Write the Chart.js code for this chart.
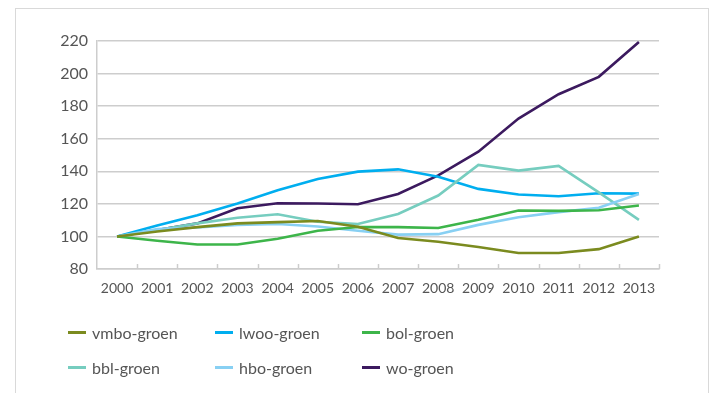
<!DOCTYPE html>
<html>
<head>
<meta charset="utf-8">
<script src="https://cdn.jsdelivr.net/npm/chart.js@4.4.1/dist/chart.umd.min.js"></script>
<style>
  html, body { margin: 0; padding: 0; background: #fff; }
  #wrap { position: relative; width: 715px; height: 393px; overflow: hidden; }
  #frame {
    position: absolute; left: 15px; top: 8px; width: 694px; height: 400px;
    border: 1.5px solid #d9d9d9; border-bottom: none; box-sizing: border-box;
  }
  #chart { position: absolute; left: 0; top: 0; }
  #legend {
    position: absolute; left: 68px; top: 320px;
    display: grid; grid-template-columns: 147px 147px 147px; row-gap: 11px;
    font-family: Lato, sans-serif; font-size: 16px; color: #555;
  }
  .item { display: flex; align-items: center; height: 24px; }
  .swatch { width: 18px; height: 3px; margin-right: 6px; }
</style>
</head>
<body>
<div id="wrap">
  <div id="frame"></div>
  <canvas id="chart" width="715" height="393"></canvas>
  <div id="legend"></div>
</div>
<script>
// index, 2000 = 100
const years = ['2000', '2001', '2002', '2003', '2004', '2005', '2006',
  '2007', '2008', '2009', '2010', '2011', '2012', '2013'];

const vmboGroen = [100, 103, 105.7, 108, 108.8, 109.5, 106, 99, 96.7, 93.5, 89.8, 89.8, 92.2, 100];
const lwooGroen = [100, 106.7, 113, 120.2, 128.3, 135.3, 139.8, 141.2, 136.7, 129.2, 125.7, 124.7, 126.5, 126.3];
const bolGroen = [100, 97.3, 95, 95, 98.6, 103.5, 105.8, 105.7, 105.2, 110.2, 115.9, 115.7, 116.1, 119];
const bblGroen = [100, 104, 108, 111.5, 113.6, 109, 107.6, 113.8, 125.1, 143.9, 140.4, 143.3, 127.1, 110.2];
const hboGroen = [100, 104.5, 105.5, 107.1, 107.6, 106.1, 103.5, 101.1, 101.4, 107.1, 111.8, 114.9, 117.6, 126];
const woGroen = [100, 104, 108, 117.3, 120.4, 120.2, 119.8, 126.1, 137.5, 152, 172.4, 187.3, 198, 219.4];

const yTicks = [80, 100, 120, 140, 160, 180, 200, 220];

const series = [
  { label: 'vmbo-groen', data: vmboGroen, color: '#7b8b1f' },
  { label: 'lwoo-groen', data: lwooGroen, color: '#00aeef' },
  { label: 'bol-groen', data: bolGroen, color: '#3db54a' },
  { label: 'bbl-groen', data: bblGroen, color: '#76cdbf' },
  { label: 'hbo-groen', data: hboGroen, color: '#88d0f3' },
  { label: 'wo-groen', data: woGroen, color: '#3c1a5f' }
];

// draw order: olive last so it sits on top like the reference
const drawOrder = [5, 1, 3, 4, 2, 0];

const gridColor = '#cdcdcd';
const textColor = '#555555';

// small tick marks pointing up into the plot, between the categories
const innerTicks = {
  id: 'innerTicks',
  afterDraw(chart) {
    const x = chart.scales.x;
    const ctx = chart.ctx;
    const n = years.length;
    const step = (x.right - x.left) / n;
    ctx.save();
    ctx.strokeStyle = gridColor;
    ctx.lineWidth = 1.5;
    ctx.beginPath();
    for (let i = 1; i <= n; i++) {
      const px = Math.round(x.left + i * step) + 0.5;
      ctx.moveTo(px, x.top);
      ctx.lineTo(px, x.top - 5);
    }
    ctx.stroke();
    ctx.restore();
  }
};

new Chart(document.getElementById('chart'), {
  type: 'line',
  data: {
    labels: years,
    datasets: drawOrder.map(i => ({
      label: series[i].label,
      data: series[i].data,
      borderColor: series[i].color,
      backgroundColor: series[i].color,
      borderWidth: 2.6,
      pointRadius: 0,
      tension: 0,
      order: drawOrder.length - drawOrder.indexOf(i)
    }))
  },
  options: {
    responsive: false,
    animation: false,
    layout: { padding: { left: 40, right: 56, top: 41, bottom: 84 } },
    plugins: {
      legend: { display: false },
      tooltip: { enabled: false }
    },
    scales: {
      x: {
        type: 'category',
        offset: true,
        afterFit(scale) { scale.height = 40; },
        grid: { display: false },
        border: { display: true, color: gridColor, width: 1.5 },
        ticks: {
          color: textColor,
          padding: 3,
          maxRotation: 0,
          autoSkip: false,
          font: { family: 'Lato', size: 14 }
        }
      },
      y: {
        min: 80,
        max: 220,
        afterFit(scale) { scale.width = 57; },
        afterBuildTicks(scale) { scale.ticks = yTicks.map(v => ({ value: v })); },
        grid: { color: gridColor, lineWidth: 1.5, drawTicks: false },
        border: { display: true, color: gridColor, width: 1.5 },
        ticks: {
          color: textColor,
          padding: 9,
          font: { family: 'Lato', size: 16 }
        }
      }
    }
  },
  plugins: [innerTicks]
});

// legend in three fixed columns
const legendEl = document.getElementById('legend');
series.forEach(s => {
  const item = document.createElement('div');
  item.className = 'item';
  const sw = document.createElement('span');
  sw.className = 'swatch';
  sw.style.background = s.color;
  const txt = document.createElement('span');
  txt.textContent = s.label;
  item.appendChild(sw);
  item.appendChild(txt);
  legendEl.appendChild(item);
});
</script>
</body>
</html>
